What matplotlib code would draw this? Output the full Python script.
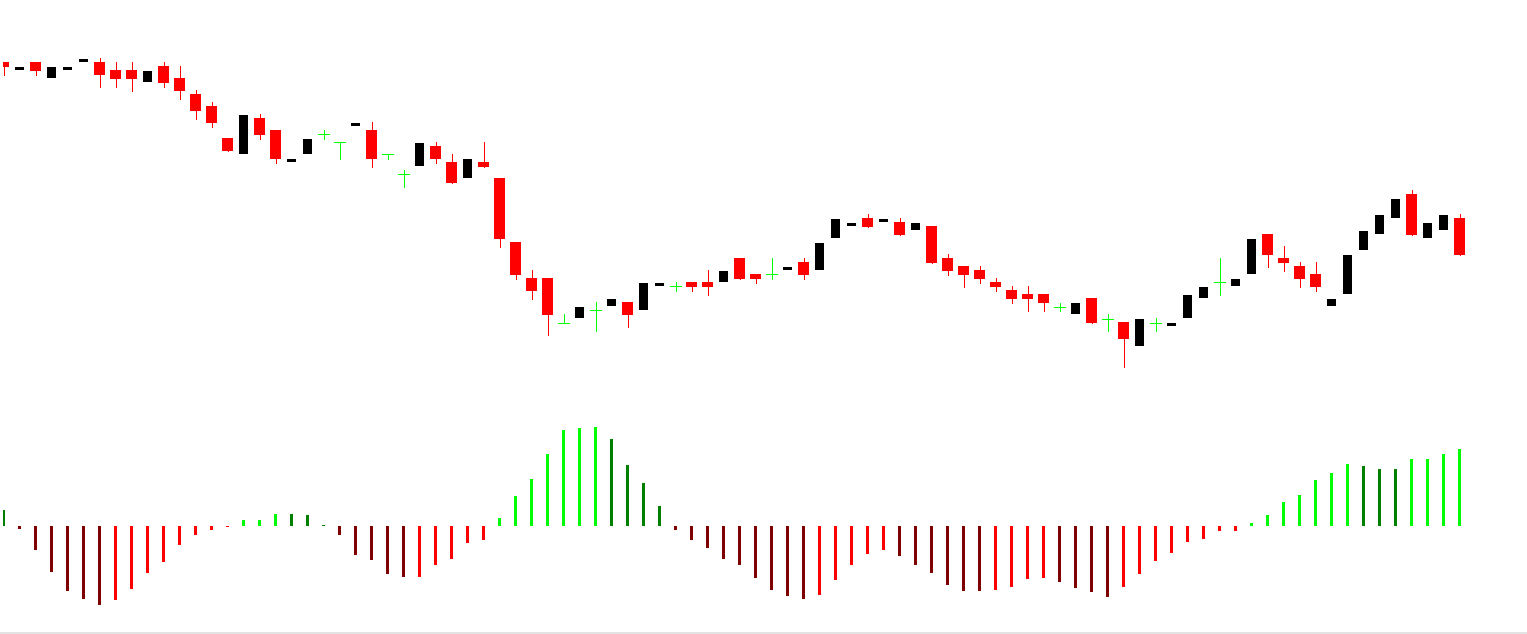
import matplotlib
matplotlib.use("Agg")
import matplotlib.pyplot as plt
from matplotlib.patches import Rectangle
import numpy as np

# ---- candle data (arbitrary price units) ----
opens = [338, 330, 338, 322, 330, 338, 338, 330, 330, 318, 334, 322, 306, 294, 262, 246, 282, 270, 238, 246,
         265.7, 257.7, 274, 270, 246, 226, 234, 254, 238, 222, 238, 222, 158, 122, 122, 77.3, 82, 90, 94, 98,
         90, 114, 113.7, 118, 118, 118, 142, 126, 126, 130, 138, 130, 162, 174, 182, 178, 178, 170, 174, 142,
         134, 130, 118, 110, 106, 106, 93.3, 86, 102, 81.3, 78, 54, 77.3, 74, 82, 102, 117.7, 114, 126, 166,
         142, 134, 126, 94, 106, 150, 166, 182, 206, 162, 170, 182]
closes = [333, 333, 329.3, 333, 333, 341, 325.3, 321, 321, 329, 317, 309, 289, 277, 249, 285, 265, 241, 241, 261,
          265.7, 257.7, 277, 241, 246, 226, 257, 241, 217, 241, 233, 161, 125, 109, 85, 77.3, 93, 90, 101, 85,
          117, 117, 113.7, 113, 113, 129, 121, 121, 126, 133, 125, 157, 181, 177, 173, 181, 165, 177, 137, 129,
          125, 121, 113, 101, 101, 97, 93.3, 97, 77, 81.3, 61, 81, 77.3, 77, 105, 113, 117.7, 121, 161, 145,
          137, 121, 113, 101, 145, 169, 185, 201, 165, 177, 185, 145]
highs = [338, 333, 338, 333, 333, 341, 342, 338, 338, 329, 338, 334, 310, 298, 262, 285, 286, 270, 241, 261,
         270, 257.7, 277, 278, 246, 230, 257, 258, 246, 241, 258, 222, 158, 130, 122, 86, 93, 98, 101, 98,
         117, 117, 118, 118, 130, 129, 142, 126, 142, 133, 142, 157, 181, 177, 186, 181, 182, 177, 174, 146,
         134, 134, 122, 114, 114, 106, 97.3, 97, 102, 86, 78, 81, 82, 77, 105, 113, 142, 121, 161, 166,
         154, 138, 138, 101, 145, 169, 185, 201, 210, 177, 185, 186]
lows = [325, 330, 325.3, 322, 330, 338, 313.3, 313.3, 309.3, 318, 313.3, 301.3, 281, 273, 249, 246, 261, 237, 238, 246,
        261, 241, 274, 233, 241, 213, 234, 237, 217, 222, 233, 153, 121, 101, 65, 77.3, 82, 69, 94, 73,
        90, 114, 109, 109, 105, 118, 121, 117, 121, 130, 121, 130, 162, 174, 173, 178, 165, 170, 137, 125,
        113, 117, 109, 97, 89, 89, 89, 86, 77, 69, 33, 54, 69, 74, 82, 102, 105, 114, 126, 133,
        129, 113, 109, 94, 106, 150, 166, 182, 165, 162, 170, 145]

# ---- oscillator histogram ----
osc = [16, -2.7, -24, -46, -65, -73, -79, -74, -63, -47, -36, -19, -9, -4, -1,
       6, 6, 12, 12, 11, 1, -9, -29, -34, -48, -51, -51, -39, -33, -17, -14, 8,
       30, 47, 72, 96, 98, 99, 87, 61, 43, 20,
       -4, -14, -22, -33, -39, -52, -64, -70, -73, -69, -54, -39, -28, -24, -30, -39, -47, -59, -65, -65, -64, -61,
       -53, -52, -56, -62, -66, -71, -61, -48, -35, -27, -16, -13, -5, -5,
       3, 11, 24, 31, 46, 53, 62, 60, 57, 57, 67, 67, 72, 77]
osc_state = list("GMMMMMMRRRRRRRRLLLGGGMMMMMRRRRRLLLLLLLGGGG"
                 "MMMMMMMMMRRRRRMMMMMMRRRRMMMMRRRRRRRRLLLLLLLGGGLLLL")

state_colors = {"L": "#00FF00", "G": "#008000", "R": "#FF0000", "M": "#800000"}
BULL = "#000000"
BEAR = "#FF0000"
DOJI = "#00FF00"

W, H = 1527, 634
fig = plt.figure(figsize=(W / 100, H / 100), dpi=100)
fig.patch.set_facecolor("white")

x0px, step = 3.5, 16.0
xl = ((3 - x0px) / step, (W - x0px) / step)

ax = fig.add_axes([3 / W, (H - 400) / H, (W - 3) / W, 400 / H])
axh = fig.add_axes([3 / W, (H - 632) / H, (W - 3) / W, 232 / H])
for a in (ax, axh):
    a.set_xlim(*xl)
    a.axis("off")
ax.set_ylim(0, 400)
axh.set_ylim(-106, 126)

o = np.array(opens, float)
c = np.array(closes, float)
hi = np.array(highs, float)
lo = np.array(lows, float)
idx = np.arange(len(o))

bear = c < o
bull = c > o
doji = c == o

lw1 = 72 / 100  # one pixel in points

# red candles: wick + body
ax.vlines(idx[bear], lo[bear], hi[bear], color=BEAR, linewidth=lw1, antialiased=False, zorder=1)
ax.bar(idx[bear], (o - c)[bear], bottom=c[bear], width=11 / step, color=BEAR,
       linewidth=0, antialiased=False, zorder=2)
# black candles: body only (wicks drawn in background colour)
hb = np.maximum((c - o)[bull], 3)
ax.bar(idx[bull], hb, bottom=o[bull], width=9 / step, color=BULL,
       linewidth=0, antialiased=False, zorder=2)
# doji candles
ax.vlines(idx[doji], lo[doji], hi[doji], color=DOJI, linewidth=lw1, antialiased=False, zorder=1)
ax.hlines(o[doji], idx[doji] - 5.5 / step, idx[doji] + 5.5 / step, color=DOJI,
          linewidth=lw1, antialiased=False, zorder=2)

# histogram
axh.bar(idx, osc, width=3 / step, color=[state_colors[s] for s in osc_state],
        linewidth=0, antialiased=False)

# bottom border strip
fig.add_artist(Rectangle((0, 0), 1, 2 / H, transform=fig.transFigure,
                         facecolor="#E3E3E3", edgecolor="none"))

fig.savefig("out.png", dpi=100, facecolor="white")
